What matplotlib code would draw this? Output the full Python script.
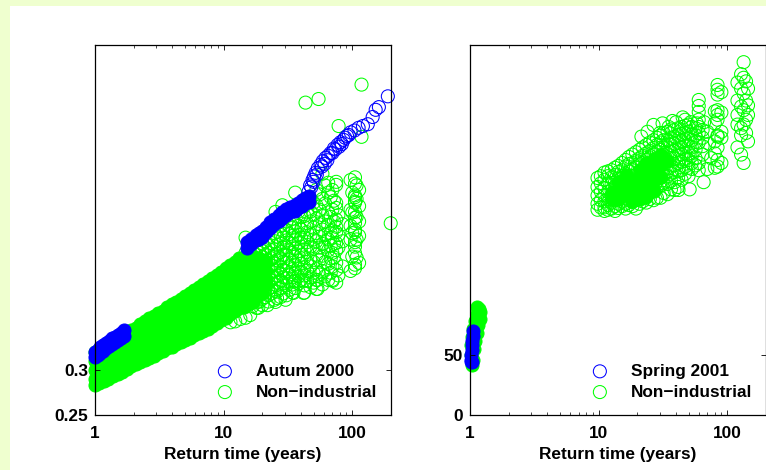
import matplotlib
matplotlib.use("Agg")
import matplotlib.pyplot as plt
import matplotlib.patches as patches

plt.rcParams['font.family'] = ['Liberation Sans', 'DejaVu Sans']
plt.rcParams['font.weight'] = 'bold'
plt.rcParams['font.size'] = 12.4

GREEN = "#00ff00"
BLUE = "#0000ff"

# left panel, dense part of the non-industrial cloud: return time -> values
core_left_t = [1, 1.175, 1.38, 1.62, 1.91, 2.24, 2.64, 3.10, 3.64, 4.28,
               5.03, 5.91, 6.95, 8.17, 9.6, 11.3, 13.2, 15.6, 18.3, 21.5,
               1.08, 1.27, 1.5, 1.76, 2.07, 2.43, 2.86, 3.37, 3.95, 4.64,
               5.45, 6.4, 7.5, 8.85, 10.4, 12.2, 14.3, 16.9, 19.8]
core_left_v = [
    [.32, .31, .30, .29, .283],
    [.327, .317, .307, .297, .288],
    [.333, .323, .313, .303, .293],
    [.338, .328, .318, .308, .298],
    [.344, .334, .324, .314, .304],
    [.351, .341, .331, .321, .311, .309],
    [.358, .348, .338, .328, .318, .313],
    [.363, .353, .343, .333, .323, .319],
    [.37, .36, .35, .34, .33, .324],
    [.376, .366, .356, .346, .336, .329],
    [.382, .372, .362, .352, .342, .333],
    [.389, .379, .369, .359, .349, .339],
    [.396, .386, .376, .366, .356, .346, .343],
    [.402, .392, .382, .372, .362, .352, .349],
    [.409, .399, .389, .379, .369, .359, .355],
    [.417, .407, .397, .387, .377, .367, .362],
    [.424, .414, .404, .394, .384, .374, .369],
    [.428, .418, .408, .398, .388, .378, .373],
    [.424, .414, .404, .394, .384],
    [.42, .41, .40, .394],
    [.322, .286], [.33, .29], [.336, .296], [.341, .301], [.347, .307], [.354, .311],
    [.36, .316], [.366, .321], [.373, .326], [.379, .331], [.385, .336], [.392, .341],
    [.399, .346], [.405, .352], [.413, .358], [.42, .365], [.426, .37], [.427, .375],
    [.422, .386],
]

# left panel, open circles of the cloud
open_left_t = [14.8, 18, 20, 22.3, 24.9, 27.7, 30.8, 34.3, 38.2, 42.4,
               47.3, 52.6, 58.6, 65, 70, 75, 97, 105, 113,
               16.8, 19, 21, 23.5, 26, 29, 32.5, 36, 40, 44.5, 50, 55.5, 61.5, 68, 72, 78, 84, 100, 108]
open_left_v = [
    [.447, .43, .40],
    [.435, .428, .42, .413, .405, .397, .389, .381, .375, .369],
    [.44, .432, .425, .417, .409, .402, .394, .386, .379, .372],
    [.447, .438, .43, .421, .413, .406, .398, .39, .383, .376],
    [.452, .443, .434, .426, .418, .41, .403, .395, .388, .378],
    [.46, .45, .44, .431, .424, .414, .407, .399, .391, .381],
    [.465, .455, .444, .436, .427, .419, .41, .402, .394, .383],
    [.468, .458, .449, .44, .43, .421, .412, .403, .395, .386],
    [.476, .46, .45, .441, .432, .422, .413, .404, .396],
    [.482, .471, .459, .447, .434, .425, .414, .405, .394, .386],
    [.49, .476, .465, .45, .437, .424, .415, .403, .392],
    [.50, .483, .468, .452, .443, .428, .412, .40, .39],
    [.518, .49, .472, .456, .44, .427, .41, .395],
    [.508, .497, .475, .461, .445, .433, .418, .40],
    [.50, .478, .455, .447, .43, .415, .40],
    [.509, .5056, .4856, .48, .467, .459, .453, .441, .433, .419, .411, .397],
    [.511, .478, .46, .445, .41],
    [.514, .507, .494, .492, .487, .4856, .4756, .469, .463, .4556, .453,
     .442, .437, .43, .417, .413],
    [.50, .482, .465, .449, .419],
    [.425, .416, .409, .401, .393, .385, .377, .371],
    [.43, .423, .415, .408, .399, .391, .384, .376],
    [.436, .428, .42, .411, .404, .396, .388, .381],
    [.441, .433, .424, .416, .409, .40, .392, .385],
    [.448, .439, .429, .422, .412, .405, .397, .387, .38],
    [.455, .447, .436, .428, .42, .411, .403, .396, .385],
    [.46, .451, .441, .433, .423, .415, .406, .398, .389],
    [.463, .454, .445, .435, .426, .417, .408, .399, .391],
    [.47, .456, .447, .437, .428, .418, .409, .40],
    [.475, .463, .453, .442, .431, .42, .41, .399],
    [.486, .473, .458, .445, .435, .42, .408, .397],
    [.495, .478, .462, .448, .436, .422, .406],
    [.505, .485, .465, .45, .437, .42, .404],
    [.492, .47, .452, .438, .424, .408],
    [.488, .465, .44, .425],
    [.472, .45, .436, .405],
    [.462, .443, .415],
    [.497, .475, .452, .426],
    [.505, .49, .47, .445, .425],
]

# left panel, single open circles along the edges
edge_left_t = [118, 54.7, 43.3, 78.3, 118, 199, 25.3, 28.6, 36,
               11.3, 12.3, 13.5, 14.8, 16.1, 18.6, 21.9, 25.3, 30.3, 34.9, 41.8, 53.7, 70.3,
               41.8, 53.7, 34.9]
edge_left_v = [.617, .601, .597, .571, .559, .463, .4756, .483, .497,
               .353, .354, .3567, .358, .361, .369, .372, .3756, .378, .3856, .3856, .39, .399,
               .399, .40, .398]

# left panel, Autumn 2000: solid stretches and the open tail
autumn_low_t = [1, 1.05, 1.1, 1.16, 1.22, 1.28, 1.35, 1.42, 1.5, 1.58, 1.68,
                1, 1.05, 1.1, 1.16, 1.22, 1.28, 1.35, 1.42, 1.5, 1.58, 1.68]
autumn_low_v = [.3195, .3225, .325, .3275, .33, .3325, .335, .337, .339, .3415, .344,
                .3145, .3165, .319, .3215, .324, .3265, .329, .331, .333, .3355, .338]
autumn_mid_t = [15.3, 16.4, 17.7, 18.8, 20, 21.5, 23.1, 24.8, 26.7, 28.6, 30.8, 33, 35.6, 38, 41, 43.2, 45.7,
                15.3, 16.4, 17.7, 18.8, 20, 21.5, 23.1, 24.8, 26.7, 28.6, 30.8, 33, 35.6, 38, 41, 43.2, 45.7]
autumn_mid_v = [.442, .446, .45, .452, .454, .459, .464, .468, .472, .475, .4786, .481, .483, .486, .4886, .491, .493,
                .436, .44, .444, .446, .448, .453, .458, .462, .466, .469, .4726, .475, .477, .48, .4826, .485, .487]
autumn_tail_t = [45.7, 47, 49.1, 50.5, 51.9, 54, 56.7, 59, 62, 65, 67.9, 72, 76.9, 81, 85.7, 91, 97.2,
                 104, 112, 121, 132, 144, 152, 161, 189,
                 48, 50, 53, 58, 61, 64, 70, 74, 79, 83, 88, 94]
autumn_tail_v = [.498, .505, .511, .515, .519, .524, .528, .532, .5356, .538, .541, .546, .55, .553, .5556, .56, .564,
                 .566, .569, .571, .573, .581, .589, .592, .604,
                 .503, .509, .517, .526, .529, .533, .541, .545, .548, .551, .558, .561]

# right panel, low blob of the non-industrial cloud
blob_right_t = [1.13, 1.17, 1.2, 1.19, 1.13, 1.1, 1.16, 1.06, 1.13, 1.03, 1.1, 1.02, 1.07, 1.02, 1.05, 1.03]
blob_right_v = [90, 88, 86, 80, 84, 78, 75, 72, 68, 65, 62, 58, 55, 50, 46, 42]

# right panel, Spring 2001
spring_t = [1.06, 1.05, 1.04, 1.03, 1.03, 1.02, 1.02, 1.03]
spring_v = [70, 66, 62, 58, 54, 50, 46, 44]

# right panel, main cloud
cloud_right_t = [9.8, 11.1, 12.6, 14.2, 16.2, 18.3, 20.8, 23.5, 26.7, 30.3, 34.3, 38.9, 44.1, 50, 56.7, 64.3,
                 60, 80, 84, 90, 120, 128, 134, 140, 145,
                 10.4, 11.8, 13.4, 15.2, 17.2, 19.5, 22, 25, 28.4, 32, 36.5, 41.5, 47, 53]
cloud_right_v = [
    [197.5, 190, 183, 176, 171],
    [202, 196, 189, 183, 178, 173, 170],
    [204, 198, 192, 187, 182, 177, 172],
    [207.5, 202.5, 197, 191, 186, 181, 176, 172.5],
    [212.5, 207, 201, 196, 191, 186, 181, 176, 172],
    [217, 210, 204, 198, 192.5, 187.5, 182.5, 177.5, 174],
    [221, 214, 208, 202.5, 197, 191, 186, 181, 176],
    [225, 218, 212.5, 207, 201, 195, 189, 183, 177],
    [229, 222.5, 217, 211, 205, 199, 193, 187.5, 179],
    [233, 227, 221, 215, 209, 203, 197.5, 191, 181],
    [236, 229, 223, 217.5, 212, 206, 199, 192.5, 184],
    [237.5, 232, 226, 220, 214, 208, 202.5, 194, 187.5],
    [240, 234, 228, 222.5, 217, 211, 204, 196],
    [242, 236, 230, 224, 218, 212.5, 206, 199],
    [239, 233, 227.5, 221, 214, 208],
    [237.5, 231, 224, 217],
    [262.5, 257.5, 252.5, 246, 240, 235, 227, 210, 204],
    [253, 243, 228, 218, 206],
    [275, 271, 267, 254, 250, 246, 233, 232, 223, 212.5, 207],
    [269, 252, 236, 231, 210],
    [277, 262, 250, 242, 223],
    [284, 272, 257, 239, 233, 217],
    [294, 281, 268, 254, 242, 210],
    [278, 262, 246, 235],
    [272, 258, 250, 228],
    [199, 193, 186, 179, 173],
    [203, 199, 193, 186, 180, 175, 171],
    [206, 200, 194, 189, 184, 179, 174, 170],
    [210, 204, 199, 193, 188, 183, 178, 174],
    [215, 209, 203, 198, 193, 188, 184, 179, 175],
    [219, 212, 206, 200, 195, 190, 185, 179, 172],
    [223, 216, 210, 205, 199, 193, 188, 183, 178],
    [227, 220, 214, 209, 203, 197, 191, 185, 180],
    [231, 225, 219, 213, 207, 201, 195, 189, 181],
    [235, 229, 223, 217, 211, 205, 200, 193, 185],
    [238, 231, 225, 219, 214, 208, 201, 195, 188],
    [239, 233, 227, 221, 216, 210, 203, 198, 190],
    [241, 235, 229, 224, 218, 213, 207, 201],
    [240, 234, 229, 223, 216, 210, 205],
]
edge_right_t = [65.5, 51, 41.8, 26.7, 31.4, 37.5, 45, 24, 21.5,
                30, 35, 40, 47, 52, 58, 66, 70, 72, 75, 70]
edge_right_v = [194, 188, 187.5, 241.7, 243, 245, 248, 236, 232,
                235, 240, 244, 246, 244, 243, 244, 236, 226, 214, 205]

# right panel, nearly solid middle of the cloud
core_right_t = [14.2, 14.2, 16.2, 16.2, 18.3, 18.3, 20.8, 20.8, 23.5, 23.5, 26.7, 26.7, 30.3, 34.3,
                12.6, 12.6, 14.2, 16.2, 18.3, 20.8, 20.8, 23.5, 23.5, 26.7, 26.7, 30.3, 30.3]
core_right_v = [187, 180, 193, 183, 195, 186, 197, 188, 202, 192, 205, 196, 208, 212,
                186, 180, 194, 200, 178, 180, 204, 182, 210, 187, 213, 198, 217]

return_ticks = [1, 10, 100]
left_yticks = [0.25, 0.3]
left_ylabels = ['0.25', '0.3']
right_yticks = [0, 50]
right_ylabels = ['0', '50']


def expand(times, values):
    xs, ys = [], []
    for t, col in zip(times, values):
        for v in col:
            xs.append(t)
            ys.append(v)
    return xs, ys


def circles(ax, x, y, color, label=None, filled=False):
    ax.scatter(x, y, s=88, facecolors=color if filled else 'none', edgecolors=color,
               linewidths=0.75, clip_on=False, label=label)


def finish(ax, ymin, ymax, yticks, ylabels, legend_x):
    ax.set_xscale('log')
    ax.set_xlim(1, 200)
    ax.set_ylim(ymin, ymax)
    ax.set_xticks(return_ticks)
    ax.set_xticklabels(['1', '10', '100'])
    ax.set_yticks(yticks)
    ax.set_yticklabels(ylabels)
    ax.tick_params(which='major', direction='in', top=True, right=True, length=3.5, width=0.6)
    ax.tick_params(which='minor', direction='in', top=True, length=2, width=0.5)
    ax.tick_params(axis='x', which='major', pad=8)
    ax.tick_params(axis='y', which='major', pad=5)
    ax.tick_params(axis='y', which='minor', left=False, right=False)
    ax.set_xlabel('Return time (years)', fontweight='bold', labelpad=4)
    for s in ax.spines.values():
        s.set_linewidth(0.9)
    h, l = ax.get_legend_handles_labels()
    ax.legend(h[::-1], l[::-1], loc='lower left', bbox_to_anchor=(legend_x, 0.03), frameon=False,
              borderaxespad=0.25, borderpad=0, handlelength=2, handletextpad=0.8,
              labelspacing=0.33, scatterpoints=1)


fig = plt.figure(figsize=(7.66, 4.70), dpi=100, facecolor='#efffcf')
fig.add_artist(patches.Rectangle((10 / 766, 0), 1, 1 - 6 / 470, transform=fig.transFigure,
                                 facecolor='white', edgecolor='none', zorder=-5))

ax1 = fig.add_axes([95 / 766, 55 / 470, 296 / 766, 370 / 470], facecolor='none')
x, y = expand(core_left_t, core_left_v)
circles(ax1, x, y, GREEN, filled=True)
x, y = expand(open_left_t, open_left_v)
circles(ax1, x + edge_left_t, y + edge_left_v, GREEN, label='Non\u2212industrial')
circles(ax1, autumn_low_t, autumn_low_v, BLUE, filled=True)
circles(ax1, autumn_mid_t, autumn_mid_v, BLUE, filled=True)
circles(ax1, autumn_tail_t, autumn_tail_v, BLUE, label='Autum 2000')
finish(ax1, 0.25, 0.661, left_yticks, left_ylabels, 0.366)

ax2 = fig.add_axes([470 / 766, 55 / 470, 296 / 766, 370 / 470], facecolor='none')
circles(ax2, blob_right_t, blob_right_v, GREEN, filled=True)
circles(ax2, core_right_t, core_right_v, GREEN, filled=True)
x, y = expand(cloud_right_t, cloud_right_v)
circles(ax2, x + edge_right_t, y + edge_right_v, GREEN, label='Non\u2212industrial')
circles(ax2, spring_t, spring_v, BLUE, filled=True)
circles(ax2, spring_t[-1:], spring_v[-1:], BLUE, label='Spring 2001')
finish(ax2, 0, 308.3, right_yticks, right_ylabels, 0.366)

fig.savefig('out.png', dpi=100, facecolor=fig.get_facecolor())
